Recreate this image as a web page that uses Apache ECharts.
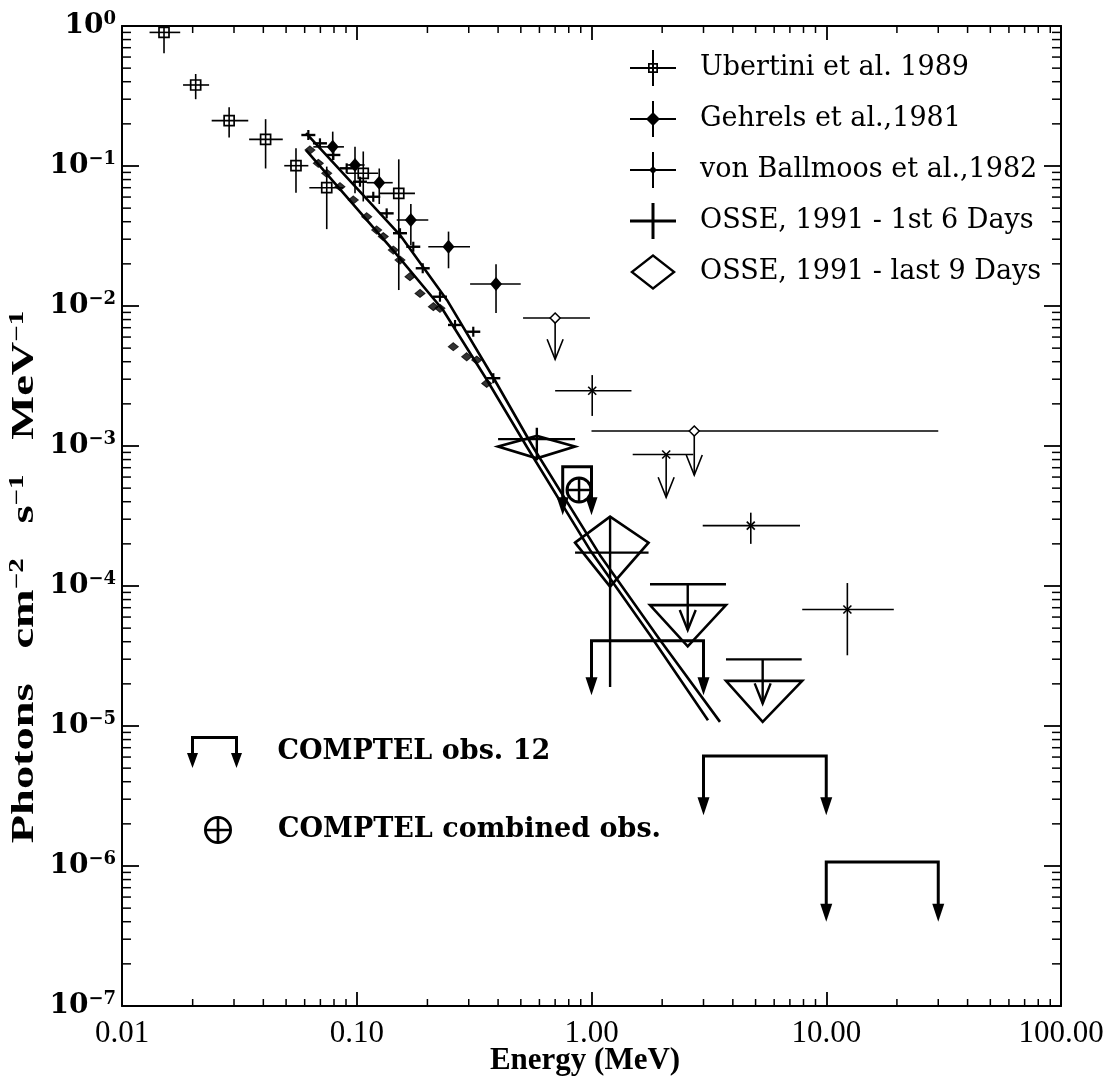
<!DOCTYPE html>
<html>
<head>
<meta charset="utf-8">
<script src="https://cdn.jsdelivr.net/npm/echarts@6.0.0/dist/echarts.min.js"></script>
<style>
  html, body { margin: 0; padding: 0; background: #fff; }
  #main { width: 1113px; height: 1079px; }
</style>
</head>
<body>
<div id="main"></div>
<script>
// axis ranges and tick labels
var xTickLabels = ['0.01', '0.10', '1.00', '10.00', '100.00'];
var yTickExp = [0, -1, -2, -3, -4, -5, -6, -7];

// points with error bars: [E, flux, Elo, Ehi, fluxLo, fluxHi]
var ubertini = [
  [0.0151, 0.90, 0.0131, 0.0177, 0.64, 1.0],
  [0.0206, 0.379, 0.0182, 0.0235, 0.30, 0.454],
  [0.0286, 0.211, 0.0241, 0.0345, 0.160, 0.263],
  [0.0409, 0.155, 0.0348, 0.0484, 0.096, 0.216],
  [0.0551, 0.1005, 0.0491, 0.0622, 0.0645, 0.134],
  [0.0745, 0.070, 0.0628, 0.0876, 0.0354, 0.099],
  [0.1066, 0.0887, 0.0906, 0.1235, 0.0558, 0.127],
  [0.151, 0.0638, 0.1256, 0.177, 0.0130, 0.1116]
];
var gehrels = [
  [0.079, 0.137, 0.0653, 0.0882, 0.110, 0.176],
  [0.0983, 0.1017, 0.090, 0.108, 0.064, 0.137],
  [0.1247, 0.076, 0.1103, 0.1423, 0.0535, 0.096],
  [0.170, 0.0411, 0.148, 0.2017, 0.0273, 0.0535],
  [0.246, 0.0265, 0.2017, 0.3037, 0.0186, 0.034],
  [0.392, 0.01436, 0.304, 0.4994, 0.0089, 0.0199]
];
var ballmoos = [
  [1.007, 0.00248, 0.70, 1.48, 0.00164, 0.00321],
  [4.77, 0.00027, 2.977, 7.73, 0.00020, 0.000334],
  [12.3, 0.000068, 7.9, 19.4, 0.000032, 0.000105]
];
var osseFirst = [
  [0.585, 0.00112, 0.400, 0.851, 0.00079, 0.00135],
  [1.20, 0.000173, 0.851, 1.75, 0.000019, 0.000313]
];
var osseLast = [
  [0.585, 0.00099, 0.400, 0.851, 0.000817, 0.00118],
  [1.20, 0.000204, 0.851, 1.75, 0.000099, 0.000313]
];

// upper limits: [E, flux, Elo, Ehi, arrowTip]
var gehrelsLimits = [
  [0.70, 0.0082, 0.511, 0.985, 0.00416],
  [2.74, 0.00128, 1.0, 30, 0.00062]
];
var ballmoosLimits = [
  [2.08, 0.00087, 1.498, 2.715, 0.00043]
];
var osseFirstLimits = [
  [2.57, 0.000103, 1.775, 3.74, 0.0000485],
  [5.36, 0.0000299, 3.74, 7.86, 0.0000145]
];
// triangles: [E, Elo, Ehi, fluxTop, fluxBottom]
var osseLastLimits = [
  [2.57, 1.775, 3.74, 0.000073, 0.000037],
  [5.36, 3.74, 7.9, 0.000021, 0.0000107]
];
// COMPTEL brackets: [Elo, Ehi, flux, arrowTip]
var comptelLimits = [
  [0.754, 1.0, 0.00071, 0.00032],
  [1.0, 3.0, 0.0000407, 0.0000166],
  [3.0, 10, 0.0000061, 0.0000023],
  [10, 30, 0.00000107, 0.0000004]
];
var comptelCombined = [[0.885, 0.000485]];

// dense low energy OSSE spectra [E, flux]
var osseFirstLow = [
  [0.0622, 0.1665], [0.0697, 0.1452], [0.0795, 0.1199], [0.0906, 0.0963],
  [0.1032, 0.0772], [0.1176, 0.0603], [0.1341, 0.0459], [0.1528, 0.0331],
  [0.1741, 0.0265], [0.1910, 0.0186], [0.2262, 0.01165], [0.2622, 0.00732],
  [0.3136, 0.00655], [0.3817, 0.00305]
];
var osseLastLow = [
  [0.0632, 0.1301], [0.0686, 0.1045], [0.0745, 0.0887], [0.0848, 0.0712],
  [0.0967, 0.0572], [0.1103, 0.0434], [0.1216, 0.0349], [0.1297, 0.0313],
  [0.1431, 0.0251], [0.1528, 0.0213], [0.1685, 0.0162], [0.1860, 0.0123],
  [0.2120, 0.00989], [0.2262, 0.00963], [0.2578, 0.00512], [0.2940, 0.00434],
  [0.3243, 0.00411], [0.3577, 0.00280]
];

// fitted spectra
var fitFirst = [
  [0.0608, 0.172], [0.1529, 0.0321], [0.2425, 0.0110], [0.3805, 0.00311],
  [0.5633, 0.000984], [1.087, 0.000166], [1.958, 0.0000411], [3.527, 0.0000107]
];
var fitLast = [
  [0.0608, 0.130], [0.1427, 0.0251], [0.2331, 0.00936], [0.3587, 0.00296],
  [0.531, 0.000984], [0.985, 0.000181], [1.775, 0.0000447], [3.135, 0.000011]
];

var xMinor = [], yMinor = [];
for (var d = -2; d < 2; d++) {
  for (var m = 2; m <= 9; m++) xMinor.push([m * Math.pow(10, d), 1e-3]);
}
for (var d2 = -7; d2 < 0; d2++) {
  for (var m2 = 2; m2 <= 9; m2++) yMinor.push([1, m2 * Math.pow(10, d2)]);
}

function seg(x1, y1, x2, y2, w) {
  return { type: 'line', shape: { x1: x1, y1: y1, x2: x2, y2: y2 }, style: { stroke: '#000', lineWidth: w } };
}

function errorBarItem(mark, lw) {
  return function (params, api) {
    var c = api.coord([api.value(0), api.value(1)]);
    var l = api.coord([api.value(2), api.value(1)]);
    var r = api.coord([api.value(3), api.value(1)]);
    var lo = api.coord([api.value(0), api.value(4)]);
    var hi = api.coord([api.value(0), api.value(5)]);
    var kids = [seg(l[0], c[1], r[0], c[1], lw), seg(c[0], hi[1], c[0], lo[1], lw)];
    if (mark === 'square') {
      kids.push({ type: 'rect', shape: { x: c[0] - 5, y: c[1] - 5, width: 10, height: 10 }, style: { stroke: '#000', fill: 'none', lineWidth: 1.7 } });
    } else if (mark === 'diamond') {
      kids.push({ type: 'polygon', shape: { points: [[c[0], c[1] - 7], [c[0] + 6, c[1]], [c[0], c[1] + 7], [c[0] - 6, c[1]]] }, style: { fill: '#000' } });
    } else if (mark === 'star') {
      kids.push(seg(c[0] - 4, c[1] - 4, c[0] + 4, c[1] + 4, 1.6));
      kids.push(seg(c[0] - 4, c[1] + 4, c[0] + 4, c[1] - 4, 1.6));
    }
    return { type: 'group', children: kids };
  };
}

function bigDiamondItem(params, api) {
  var l = api.coord([api.value(2), api.value(1)]);
  var r = api.coord([api.value(3), api.value(1)]);
  var lo = api.coord([api.value(0), api.value(4)]);
  var hi = api.coord([api.value(0), api.value(5)]);
  return {
    type: 'polygon',
    shape: { points: [[l[0], l[1]], [hi[0], hi[1]], [r[0], r[1]], [lo[0], lo[1]]] },
    style: { stroke: '#000', fill: 'none', lineWidth: 2.6 }
  };
}

function upperLimitItem(mark, lw) {
  return function (params, api) {
    var c = api.coord([api.value(0), api.value(1)]);
    var l = api.coord([api.value(2), api.value(1)]);
    var r = api.coord([api.value(3), api.value(1)]);
    var t = api.coord([api.value(0), api.value(4)]);
    var kids = [
      seg(l[0], c[1], r[0], c[1], lw),
      seg(c[0], c[1], c[0], t[1], lw),
      { type: 'polyline', shape: { points: [[t[0] - 8, t[1] - 20], [t[0], t[1]], [t[0] + 8, t[1] - 20]] }, style: { stroke: '#000', fill: 'none', lineWidth: lw } }
    ];
    if (mark === 'diamond') {
      kids.push({ type: 'polygon', shape: { points: [[c[0], c[1] - 5], [c[0] + 5, c[1]], [c[0], c[1] + 5], [c[0] - 5, c[1]]] }, style: { stroke: '#000', fill: '#fff', lineWidth: 1.5 } });
    } else if (mark === 'star') {
      kids.push(seg(c[0] - 4, c[1] - 4, c[0] + 4, c[1] + 4, 1.6));
      kids.push(seg(c[0] - 4, c[1] + 4, c[0] + 4, c[1] - 4, 1.6));
    }
    return { type: 'group', children: kids };
  };
}

function triangleItem(params, api) {
  var a = api.coord([api.value(1), api.value(3)]);
  var b = api.coord([api.value(2), api.value(3)]);
  var v = api.coord([api.value(0), api.value(4)]);
  return {
    type: 'polygon',
    shape: { points: [[a[0], a[1]], [b[0], b[1]], [v[0], v[1]]] },
    style: { stroke: '#000', fill: 'none', lineWidth: 2.6 }
  };
}

function arrowHead(x, y) {
  return { type: 'polygon', shape: { points: [[x - 6, y - 18], [x + 6, y - 18], [x, y]] }, style: { fill: '#000' } };
}

function bracketItem(params, api) {
  var a = api.coord([api.value(0), api.value(2)]);
  var b = api.coord([api.value(1), api.value(2)]);
  var t = api.coord([api.value(0), api.value(3)]);
  return {
    type: 'group',
    children: [
      { type: 'polyline', shape: { points: [[a[0], t[1] - 14], [a[0], a[1]], [b[0], b[1]], [b[0], t[1] - 14]] }, style: { stroke: '#000', fill: 'none', lineWidth: 3 } },
      arrowHead(a[0], t[1]),
      arrowHead(b[0], t[1])
    ]
  };
}

function circlePlusItem(params, api) {
  var c = api.coord([api.value(0), api.value(1)]);
  return {
    type: 'group',
    children: [
      { type: 'circle', shape: { cx: c[0], cy: c[1], r: 12 }, style: { stroke: '#000', fill: '#fff', lineWidth: 3 } },
      seg(c[0] - 12, c[1], c[0] + 12, c[1], 2.5),
      seg(c[0], c[1] - 12, c[0], c[1] + 12, 2.5)
    ]
  };
}

function smallCrossItem(params, api) {
  var c = api.coord([api.value(0), api.value(1)]);
  return { type: 'group', children: [seg(c[0] - 7, c[1], c[0] + 7, c[1], 2.4), seg(c[0], c[1] - 5, c[0], c[1] + 5, 2.2)] };
}

function xMinorItem(params, api) {
  var cs = params.coordSys;
  var px = api.coord([api.value(0), 1e-3])[0];
  var yb = cs.y + cs.height;
  return { type: 'group', children: [seg(px, yb, px, yb - 7, 1.5), seg(px, cs.y, px, cs.y + 7, 1.5)] };
}

function yMinorItem(params, api) {
  var cs = params.coordSys;
  var py = api.coord([1, api.value(1)])[1];
  var xr = cs.x + cs.width;
  return { type: 'group', children: [seg(cs.x, py, cs.x + 9, py, 1.5), seg(xr, py, xr - 9, py, 1.5)] };
}

function customSeries(name, data, render) {
  return {
    name: name, type: 'custom', renderItem: render, data: data, silent: true,
    encode: { x: 0, y: 1 }, itemStyle: { color: '#000' }, z: 3
  };
}

var iconU = 'path://M0,17H46V19H0Z M22,0H24V36H22Z M18,13H28V23H18Z M19.7,21.3H26.3V14.7H19.7Z';
var iconG = 'path://M0,17H46V19H0Z M22,0H24V36H22Z M23,11L30,18L23,25L16,18Z';
var iconB = 'path://M0,17H46V19H0Z M22,0H24V36H22Z M23,14L27,18L23,22L19,18Z';
var iconF = 'path://M0,16.5H46V19.5H0Z M21.5,0H24.5V36H21.5Z';
var iconL = 'path://M0,18L23,0L46,18L23,36Z M3.8,18L23,33L42.2,18L23,3Z';
var iconC = 'path://M4.5,0H51.5V3H4.5Z M4.5,0H7.5V19H4.5Z M48.5,0H51.5V19H48.5Z M0.5,17H11.5L6,32Z M44.5,17H55.5L50,32Z';
var iconO = 'path://M1,14A13,13 0 1,1 27,14A13,13 0 1,1 1,14Z M3.6,14A10.4,10.4 0 1,0 24.4,14A10.4,10.4 0 1,0 3.6,14Z M12.75,2H15.25V26H12.75Z M2,12.75H26V15.25H2Z';

var chart = echarts.init(document.getElementById('main'));

var axisLineStyle = { show: true, lineStyle: { color: '#000', width: 2 } };
var xBase = {
  type: 'log', logBase: 10, min: 0.01, max: 100, splitNumber: 4,
  axisLine: axisLineStyle, splitLine: { show: false },
  axisTick: { show: true, inside: true, length: 14, lineStyle: { color: '#000', width: 1.8 } }
};
var yBase = {
  type: 'log', logBase: 10, min: 1e-7, max: 1, splitNumber: 7,
  axisLine: axisLineStyle, splitLine: { show: false },
  axisTick: { show: true, inside: true, length: 17, lineStyle: { color: '#000', width: 1.8 } }
};

var legendText = { fontFamily: 'DejaVu Serif', fontSize: 27, color: '#000' };

var option = {
  animation: false,
  backgroundColor: '#fff',
  grid: { left: 122, right: 52, top: 26, bottom: 73 },
  xAxis: [
    Object.assign({}, xBase, {
      position: 'bottom',
      axisLabel: {
        margin: 12, color: '#000', fontFamily: 'Liberation Serif', fontSize: 31,
        formatter: function (v) { return xTickLabels[Math.round(Math.log10(v)) + 2]; }
      }
    }),
    Object.assign({}, xBase, { position: 'top', axisLabel: { show: false } })
  ],
  yAxis: [
    Object.assign({}, yBase, {
      position: 'left',
      axisLabel: {
        margin: 6,
        formatter: function (v) {
          var e = Math.round(Math.log10(v));
          if (yTickExp.indexOf(e) < 0) return '';
          return '{b|10}{s|' + (e < 0 ? '\u2212' + (-e) : e) + '}';
        },
        rich: {
          b: { fontFamily: 'DejaVu Serif', fontWeight: 'bold', fontSize: 28, color: '#000' },
          s: { fontFamily: 'DejaVu Serif', fontWeight: 'bold', fontSize: 18, color: '#000', verticalAlign: 'bottom', padding: [0, 0, 14, 0] }
        }
      }
    }),
    Object.assign({}, yBase, { position: 'right', axisLabel: { show: false } })
  ],
  legend: [
    {
      orient: 'vertical', left: 625, top: 45, itemWidth: 46, itemHeight: 36, itemGap: 15,
      selectedMode: false, itemStyle: { color: '#000', borderWidth: 0 },
      textStyle: Object.assign({ padding: [0, 0, 0, 19] }, legendText),
      data: [
        { name: 'Ubertini et al. 1989', icon: iconU },
        { name: 'Gehrels et al.,1981', icon: iconG },
        { name: 'von Ballmoos et al.,1982', icon: iconB },
        { name: 'OSSE, 1991 - 1st 6 Days', icon: iconF },
        { name: 'OSSE, 1991 - last 9 Days', icon: iconL }
      ]
    },
    {
      orient: 'vertical', left: 182, top: 731, itemWidth: 56, itemHeight: 32,
      selectedMode: false, itemStyle: { color: '#000', borderWidth: 0 },
      textStyle: Object.assign({ padding: [0, 0, 0, 30], fontWeight: 'bold' }, legendText),
      data: [{ name: 'COMPTEL obs. 12', icon: iconC }]
    },
    {
      orient: 'vertical', left: 199, top: 811, itemWidth: 28, itemHeight: 28,
      selectedMode: false, itemStyle: { color: '#000', borderWidth: 0 },
      textStyle: Object.assign({ padding: [0, 0, 0, 41], fontWeight: 'bold' }, legendText),
      data: [{ name: 'COMPTEL combined obs.', icon: iconO }]
    }
  ],
  graphic: [
    {
      type: 'text', x: 585, y: 1061,
      style: { text: 'Energy (MeV)', font: 'bold 31px "Liberation Serif"', fill: '#000', align: 'center', verticalAlign: 'middle' }
    },
    {
      // y title is stretched along its length like the original lettering
      type: 'text', x: 25, y: 577, rotation: Math.PI / 2, scaleX: 1.45, scaleY: 1,
      style: {
        text: '{a|Photons   cm}{s|\u22122}{a|   s}{s|\u22121}{a|   MeV}{s|\u22121}',
        align: 'center', verticalAlign: 'middle',
        rich: {
          a: { fontFamily: 'Liberation Serif', fontWeight: 'bold', fontSize: 32, fill: '#000' },
          s: { fontFamily: 'Liberation Serif', fontWeight: 'bold', fontSize: 20, fill: '#000', verticalAlign: 'bottom', padding: [0, 0, 14, 0] }
        }
      }
    }
  ],
  series: [
    customSeries('xminor', xMinor, xMinorItem),
    customSeries('yminor', yMinor, yMinorItem),
    {
      name: 'fit first', type: 'line', data: fitFirst, symbol: 'none', silent: true,
      lineStyle: { color: '#000', width: 2.6 }, z: 2
    },
    {
      name: 'fit last', type: 'line', data: fitLast, symbol: 'none', silent: true,
      lineStyle: { color: '#000', width: 2.6 }, z: 2
    },
    customSeries('Ubertini et al. 1989', ubertini, errorBarItem('square', 1.6)),
    customSeries('Gehrels et al.,1981', gehrels, errorBarItem('diamond', 1.6)),
    customSeries('Gehrels et al.,1981', gehrelsLimits, upperLimitItem('diamond', 1.6)),
    customSeries('von Ballmoos et al.,1982', ballmoos, errorBarItem('star', 1.6)),
    customSeries('von Ballmoos et al.,1982', ballmoosLimits, upperLimitItem('star', 1.6)),
    customSeries('OSSE, 1991 - 1st 6 Days', osseFirst, errorBarItem('none', 2.4)),
    customSeries('OSSE, 1991 - 1st 6 Days', osseFirstLow, smallCrossItem),
    customSeries('OSSE, 1991 - 1st 6 Days', osseFirstLimits, upperLimitItem('none', 2.4)),
    customSeries('OSSE, 1991 - last 9 Days', osseLast, bigDiamondItem),
    {
      name: 'OSSE, 1991 - last 9 Days', type: 'scatter', data: osseLastLow, silent: true,
      symbol: 'diamond', symbolSize: [10, 8],
      itemStyle: { color: '#000', borderColor: '#000', borderWidth: 1 }, z: 3
    },
    customSeries('OSSE, 1991 - last 9 Days', osseLastLimits, triangleItem),
    customSeries('COMPTEL obs. 12', comptelLimits, bracketItem),
    customSeries('COMPTEL combined obs.', comptelCombined, circlePlusItem)
  ]
};

chart.setOption(option);
window.addEventListener('resize', chart.resize);
</script>
</body>
</html>
